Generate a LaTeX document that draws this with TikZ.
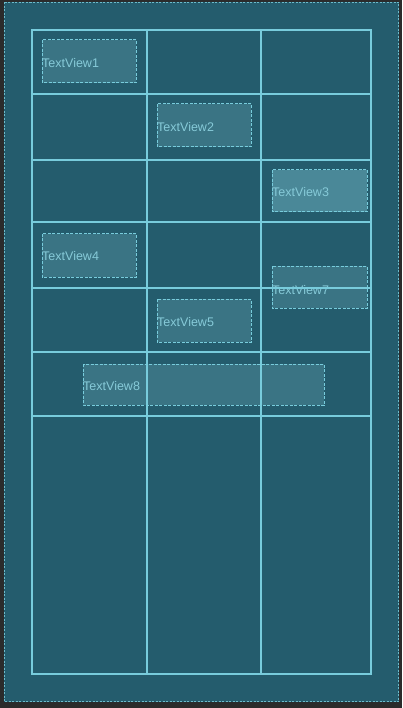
\documentclass[tikz,border=0pt]{standalone}
\usepackage{fontspec}
\setmainfont{Liberation Sans}
\definecolor{outerbg}{HTML}{2B2B2B}
\definecolor{panel}{HTML}{245C6D}
\definecolor{gridc}{HTML}{78CCDC}
\definecolor{boxfill}{HTML}{3A7484}
\definecolor{boxsel}{HTML}{4A8898}
\definecolor{txtc}{HTML}{86CAD8}
\tikzset{
  gridline/.style={draw=gridc, line width=1.1pt},
  tvbox/.style={draw=gridc, fill=boxfill, line width=1pt, dash pattern=on 3pt off 1.5pt},
  tvsel/.style={tvbox, fill=boxsel},
  tvlabel/.style={anchor=west, inner sep=0pt, text=txtc, font=\fontsize{12.5}{13}\selectfont},
}
\begin{document}
\begin{tikzpicture}[x=1pt,y=-1pt]
\useasboundingbox (0,0) rectangle (402,708);
\fill[outerbg] (0,0) rectangle (402,708);
\draw[fill=panel, draw=gridc!85!panel, line width=1pt, dash pattern=on 2pt off 1.5pt] (4,2.5) rectangle (398.5,701.5);
% boxes
\draw[tvbox] (42,40) rectangle (136,83);
\node[tvlabel] (t1) at (42,63) {TextView1};
\draw[tvbox] (157,104) rectangle (251,147);
\node[tvlabel] (t2) at (157,127) {TextView2};
\draw[tvsel] (272,170) rectangle (367,212);
\node[tvlabel] (t3) at (272,192) {TextView3};
\draw[tvbox] (42,234) rectangle (136,277);
\node[tvlabel] (t4) at (42,256) {TextView4};
\draw[tvbox] (272,266) rectangle (367,308);
\node[tvlabel] (t7) at (272,290) {TextView7};
\draw[tvbox] (157,299) rectangle (251,342);
\node[tvlabel] (t5) at (157,322) {TextView5};
\draw[tvbox] (83,364) rectangle (324,405);
\node[tvlabel] (t8) at (83,386) {TextView8};
% grid
\draw[gridline] (32,30) rectangle (371,674);
\foreach \xx in {147,261} \draw[gridline] (\xx,30) -- (\xx,674);
\foreach \yy in {94,160,222,288,352,416} \draw[gridline] (32,\yy) -- (371,\yy);
\end{tikzpicture}
\end{document}
